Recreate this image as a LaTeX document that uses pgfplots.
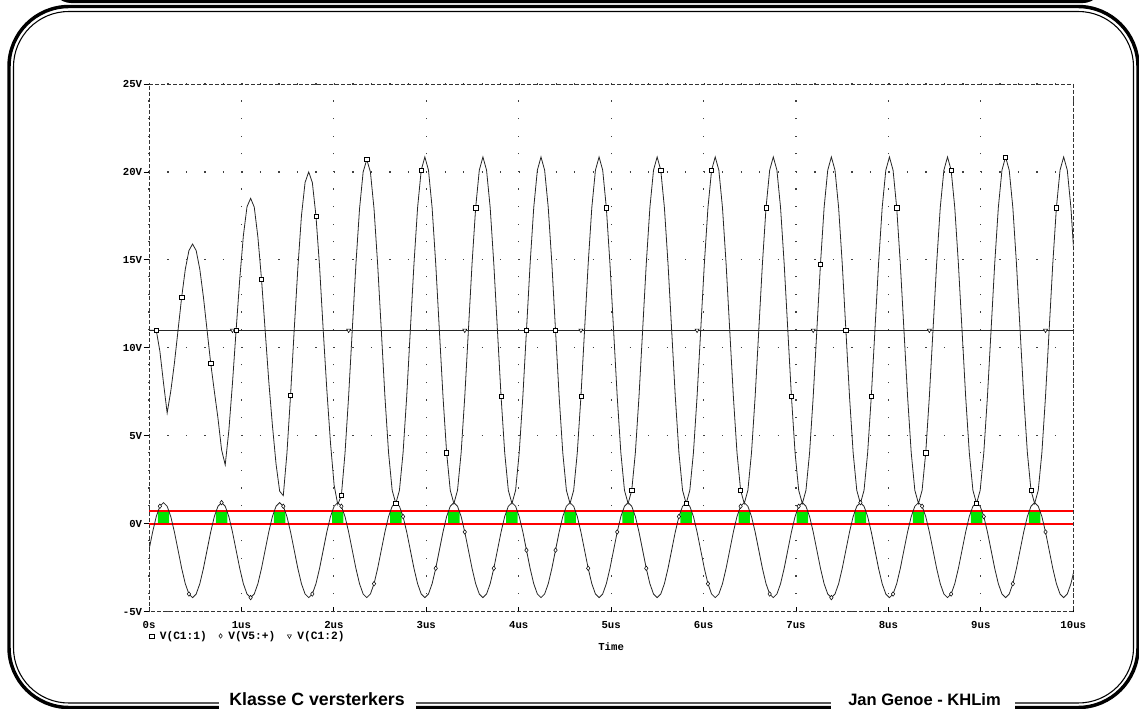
\documentclass[border=0pt]{standalone}
\usepackage{fontspec}
\setmainfont{Liberation Sans}
\newfontfamily\pspice{Liberation Mono}
\usepackage{pgfplots}
\usepackage{pgfplotstable}
\pgfplotsset{compat=1.18}
\definecolor{sigred}{RGB}{255,0,0}
\definecolor{sggreen}{RGB}{0,230,0}
\definecolor{trace}{gray}{0.15}
\pgfplotsset{onemark/.style={legend image code/.code={\draw[##1] plot coordinates {(0pt,0pt)};}}}

% k = time in steps of pi/80 us (16 steps per period of the 1.59 MHz drive)
\pgfplotstableread{
k vin vout
0 -1.5 11
1 -0.467 11
2 0.409 11
3 0.994 9.8
4 1.2 8.0
5 0.994 6.3
6 0.409 7.535
7 -0.467 9.125
8 -1.5 11
9 -2.533 12.875
10 -3.409 14.465
11 -3.994 15.527
12 -4.2 15.9
13 -3.994 15.527
14 -3.409 14.465
15 -2.533 12.875
16 -1.5 11
17 -0.467 9.125
18 0.409 7.535
19 0.994 6.0
20 1.2 4.2
21 0.994 3.35
22 0.409 5.3
23 -0.467 8.0
24 -1.5 11
25 -2.533 13.908
26 -3.409 16.374
27 -3.994 18.021
28 -4.2 18.5
29 -3.994 18.0
30 -3.409 16.3
31 -2.533 13.9
32 -1.5 11
33 -0.467 8.1
34 0.409 5.6
35 0.994 3.4
36 1.2 1.85
37 0.994 1.6
38 0.409 4.0
39 -0.467 7.3
40 -1.5 11
41 -2.533 14.5
42 -3.409 17.5
43 -3.994 19.4
44 -4.2 20.0
45 -3.994 19.4
46 -3.409 17.5
47 -2.533 14.6
48 -1.5 11
49 -0.467 7.6
50 0.409 4.6
51 0.994 2.2
52 1.2 1.1
53 0.994 1.6
54 0.409 4.0
55 -0.467 7.25
56 -1.5 11
57 -2.533 14.73
58 -3.409 17.89
59 -3.994 20.0
60 -4.2 20.7
61 -3.994 20.0
62 -3.409 17.9
63 -2.533 14.73
64 -1.5 11
65 -0.467 7.23
66 0.409 4.04
67 0.994 1.9
68 1.2 1.15
69 0.994 1.9
70 0.409 4.04
71 -0.467 7.23
72 -1.5 11
73 -2.533 14.77
74 -3.409 17.97
75 -3.994 20.1
76 -4.2 20.85
77 -3.994 20.1
78 -3.409 17.97
79 -2.533 14.77
80 -1.5 11
81 -0.467 7.23
82 0.409 4.04
83 0.994 1.9
84 1.2 1.15
85 0.994 1.9
86 0.409 4.04
87 -0.467 7.23
88 -1.5 11
89 -2.533 14.77
90 -3.409 17.97
91 -3.994 20.1
92 -4.2 20.85
93 -3.994 20.1
94 -3.409 17.97
95 -2.533 14.77
96 -1.5 11
97 -0.467 7.23
98 0.409 4.04
99 0.994 1.9
100 1.2 1.15
101 0.994 1.9
102 0.409 4.04
103 -0.467 7.23
104 -1.5 11
105 -2.533 14.77
106 -3.409 17.97
107 -3.994 20.1
108 -4.2 20.85
109 -3.994 20.1
110 -3.409 17.97
111 -2.533 14.77
112 -1.5 11
113 -0.467 7.23
114 0.409 4.04
115 0.994 1.9
116 1.2 1.15
117 0.994 1.9
118 0.409 4.04
119 -0.467 7.23
120 -1.5 11
121 -2.533 14.77
122 -3.409 17.97
123 -3.994 20.1
124 -4.2 20.85
125 -3.994 20.1
126 -3.409 17.97
127 -2.533 14.77
128 -1.5 11
129 -0.467 7.23
130 0.409 4.04
131 0.994 1.9
132 1.2 1.15
133 0.994 1.9
134 0.409 4.04
135 -0.467 7.23
136 -1.5 11
137 -2.533 14.77
138 -3.409 17.97
139 -3.994 20.1
140 -4.2 20.85
141 -3.994 20.1
142 -3.409 17.97
143 -2.533 14.77
144 -1.5 11
145 -0.467 7.23
146 0.409 4.04
147 0.994 1.9
148 1.2 1.15
149 0.994 1.9
150 0.409 4.04
151 -0.467 7.23
152 -1.5 11
153 -2.533 14.77
154 -3.409 17.97
155 -3.994 20.1
156 -4.2 20.85
157 -3.994 20.1
158 -3.409 17.97
159 -2.533 14.77
160 -1.5 11
161 -0.467 7.23
162 0.409 4.04
163 0.994 1.9
164 1.2 1.15
165 0.994 1.9
166 0.409 4.04
167 -0.467 7.23
168 -1.5 11
169 -2.533 14.77
170 -3.409 17.97
171 -3.994 20.1
172 -4.2 20.85
173 -3.994 20.1
174 -3.409 17.97
175 -2.533 14.77
176 -1.5 11
177 -0.467 7.23
178 0.409 4.04
179 0.994 1.9
180 1.2 1.15
181 0.994 1.9
182 0.409 4.04
183 -0.467 7.23
184 -1.5 11
185 -2.533 14.77
186 -3.409 17.97
187 -3.994 20.1
188 -4.2 20.85
189 -3.994 20.1
190 -3.409 17.97
191 -2.533 14.77
192 -1.5 11
193 -0.467 7.23
194 0.409 4.04
195 0.994 1.9
196 1.2 1.15
197 0.994 1.9
198 0.409 4.04
199 -0.467 7.23
200 -1.5 11
201 -2.533 14.77
202 -3.409 17.97
203 -3.994 20.1
204 -4.2 20.85
205 -3.994 20.1
206 -3.409 17.97
207 -2.533 14.77
208 -1.5 11
209 -0.467 7.23
210 0.409 4.04
211 0.994 1.9
212 1.2 1.15
213 0.994 1.9
214 0.409 4.04
215 -0.467 7.23
216 -1.5 11
217 -2.533 14.77
218 -3.409 17.97
219 -3.994 20.1
220 -4.2 20.85
221 -3.994 20.1
222 -3.409 17.97
223 -2.533 14.77
224 -1.5 11
225 -0.467 7.23
226 0.409 4.04
227 0.994 1.9
228 1.2 1.15
229 0.994 1.9
230 0.409 4.04
231 -0.467 7.23
232 -1.5 11
233 -2.533 14.77
234 -3.409 17.97
235 -3.994 20.1
236 -4.2 20.85
237 -3.994 20.1
238 -3.409 17.97
239 -2.533 14.77
240 -1.5 11
241 -0.467 7.23
242 0.409 4.04
243 0.994 1.9
244 1.2 1.15
245 0.994 1.9
246 0.409 4.04
247 -0.467 7.23
248 -1.5 11
249 -2.533 14.77
250 -3.409 17.97
251 -3.994 20.1
252 -4.2 20.85
253 -3.994 20.1
254 -3.409 17.97
255 -2.533 14.77
}\datatab

\pgfplotstableread{
k v
0 0
254.6479 0
}\lowline
\pgfplotstableread{
k v
0 0.7
254.6479 0.7
}\highline

\begin{document}
\begin{tikzpicture}
\useasboundingbox (0,0) rectangle (854.25pt,-531.75pt);
\clip (0,0) rectangle (854.25pt,-531.75pt);
\begin{scope}[x=0.75pt,y=-0.75pt]
  \draw[line width=2.6pt, rounded corners=45pt] (9,6.5) rectangle (1138,707.5);
  \draw[line width=0.8pt, rounded corners=41.5pt] (13.5,11.5) rectangle (1133.5,703);
  \draw[line width=2.4pt] (50,-20) to[out=-80,in=180] (72,1.5) -- (1082,1.5) to[out=0,in=-100] (1104,-20);
  \fill[white] (219,690) rectangle (416,712);
  \fill[white] (831,690) rectangle (1015,712);
  \node[anchor=base west, inner sep=0pt, font=\bfseries\fontsize{13.3}{16}\selectfont] at (229,705.5) {Klasse C versterkers};
  \node[anchor=base west, inner sep=0pt, font=\bfseries\fontsize{12.4}{15}\selectfont] at (848,705.5) {Jan Genoe - KHLim};
\end{scope}
\begin{axis}[
  at={(111.75pt,-458.775pt)}, anchor=south west,
  scale only axis, width=693.2pt, height=395.8pt,
  xmin=0, xmax=254.6479, ymin=-5, ymax=25,
  xtick={0,25.4648,50.9296,76.3944,101.8592,127.3240,152.7887,178.2535,203.7183,229.1831,254.6479},
  xticklabels={0s,1us,2us,3us,4us,5us,6us,7us,8us,9us,10us},
  ytick={-5,0,5,10,15,20,25},
  yticklabels={-5V,0V,5V,10V,15V,20V,25V},
  xtick pos=left, ytick pos=left,
  tick align=outside, major tick length=4pt,
  xtick style={yshift=3.5pt, black, line width=0.6pt, solid},
  ytick style={black, line width=0.6pt, solid},
  tick label style={font=\pspice\bfseries\fontsize{8}{9}\selectfont, black},
  yticklabel style={inner xsep=1pt},
  grid=major,
  x grid style={black!75, line width=0.9pt, dash pattern=on 0.9pt off 12.293pt},
  y grid style={black!75, line width=0.9pt, dash pattern=on 0.9pt off 12.964pt},
  axis line style={black!80, line width=0.7pt, dash pattern=on 3pt off 1.5pt},
  xlabel={Time},
  xlabel style={font=\pspice\bfseries\fontsize{8}{9}\selectfont, at={(axis description cs:0.5,0)}, anchor=center, yshift=-26.5pt},
  legend columns=3,
  legend style={draw=none, fill=none, font=\pspice\bfseries\fontsize{8.4}{10}\selectfont,
    at={(axis description cs:-0.004,-0.046)}, anchor=west,
    /tikz/every odd column/.append style={column sep=2.5pt},
    /tikz/every even column/.append style={column sep=7pt},
    nodes={inner xsep=2pt, inner ysep=0.5pt}},
  legend cell align=left,
]
% conduction windows of the transistor (input above 0.7 V)
\addplot[fill=sggreen, draw=none, forget plot, unbounded coords=jump] coordinates {
(2.424,0) (2.424,0.7) (5.576,0.7) (5.576,0) (nan,nan)
(18.424,0) (18.424,0.7) (21.576,0.7) (21.576,0) (nan,nan)
(34.424,0) (34.424,0.7) (37.576,0.7) (37.576,0) (nan,nan)
(50.424,0) (50.424,0.7) (53.576,0.7) (53.576,0) (nan,nan)
(66.424,0) (66.424,0.7) (69.576,0.7) (69.576,0) (nan,nan)
(82.424,0) (82.424,0.7) (85.576,0.7) (85.576,0) (nan,nan)
(98.424,0) (98.424,0.7) (101.576,0.7) (101.576,0) (nan,nan)
(114.424,0) (114.424,0.7) (117.576,0.7) (117.576,0) (nan,nan)
(130.424,0) (130.424,0.7) (133.576,0.7) (133.576,0) (nan,nan)
(146.424,0) (146.424,0.7) (149.576,0.7) (149.576,0) (nan,nan)
(162.424,0) (162.424,0.7) (165.576,0.7) (165.576,0) (nan,nan)
(178.424,0) (178.424,0.7) (181.576,0.7) (181.576,0) (nan,nan)
(194.424,0) (194.424,0.7) (197.576,0.7) (197.576,0) (nan,nan)
(210.424,0) (210.424,0.7) (213.576,0.7) (213.576,0) (nan,nan)
(226.424,0) (226.424,0.7) (229.576,0.7) (229.576,0) (nan,nan)
(242.424,0) (242.424,0.7) (245.576,0.7) (245.576,0)};
\addplot[draw=sigred, line width=1.5pt, mark=none, forget plot] table[x=k, y=v] {\highline};
\addplot[draw=sigred, line width=1.5pt, mark=none, forget plot] table[x=k, y=v] {\lowline};
\addplot[trace, line width=0.6pt, mark=diamond*, mark size=1.7pt,
  mark options={solid, fill=white, draw=black, line width=0.4pt},
  mark indices={4,12,21,29,38,46,54,63,71,80,88,96,105,113,122,130,138,147,155,164,172,180,189,197,206,214,222,231,239,248},
  forget plot] table[x=k, y=vin] {\datatab};
\addplot[trace, line width=0.6pt, mark=square*, mark size=1.6pt,
  mark options={solid, fill=white, draw=black, line width=0.4pt},
  mark indices={3,10,18,25,32,40,47,54,61,69,76,83,91,98,105,113,120,127,134,142,149,156,164,171,178,186,193,200,207,215,222,229,237,244,251},
  forget plot] table[x=k, y=vout] {\datatab};
\addplot[trace, line width=0.6pt, mark=triangle*, mark size=1.8pt,
  mark options={solid, rotate=180, fill=white, draw=black, line width=0.4pt},
  mark indices={2,3,4,5,6,7,8,9}, forget plot] coordinates {
(0,11) (23,11) (55,11) (87,11) (119,11) (151,11) (183,11) (215,11) (247,11) (254.6479,11)};
\addlegendimage{only marks, mark=square*, mark size=1.6pt, mark options={fill=white, draw=black, line width=0.4pt}, onemark}
\addlegendentry{V(C1:1)}
\addlegendimage{only marks, mark=diamond*, mark size=1.7pt, mark options={fill=white, draw=black, line width=0.4pt}, onemark}
\addlegendentry{V(V5:+)}
\addlegendimage{only marks, mark=triangle*, mark size=1.8pt, mark options={rotate=180, fill=white, draw=black, line width=0.4pt}, onemark}
\addlegendentry{V(C1:2)}
\end{axis}
\end{tikzpicture}
\end{document}
